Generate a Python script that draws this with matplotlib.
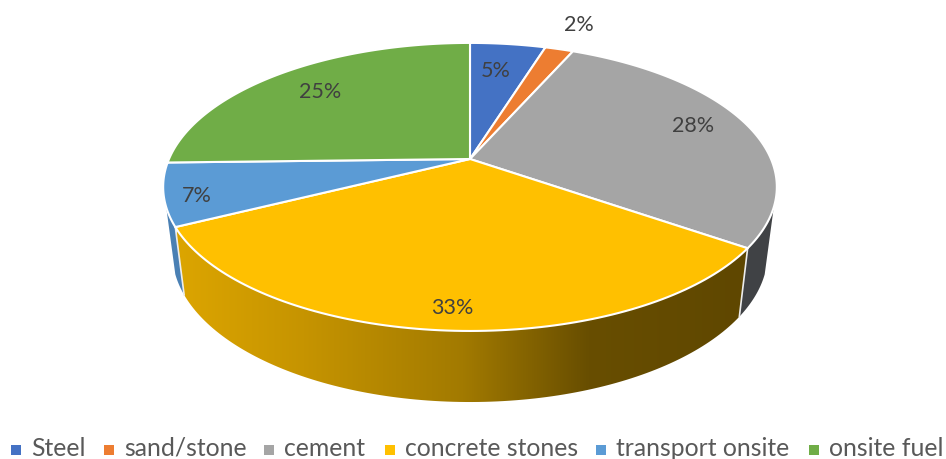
#!/usr/bin/env python3
import numpy as np
import matplotlib
matplotlib.use("Agg")
import matplotlib.pyplot as plt
from matplotlib.colors import LinearSegmentedColormap
from matplotlib.patches import Polygon

categories = ["Steel", "sand/stone", "cement", "concrete stones", "transport onsite", "onsite fuel"]
values = [4.8, 1.8, 28.1, 32.9, 7.0, 25.4]
colours = ["#4472C4", "#ED7D31", "#A5A5A5", "#FFC000", "#5B9BD5", "#70AD47"]

# where each % label sits: fraction of radius, and nudge off the mid angle (deg)
label_radius = [0.73, 1.27, 0.815, 0.89, 0.90, 0.765]
label_nudge = [-1.0, 0.0, -2.0, -1.0, -2.5, 0.0]

# legend: left edge of each text, in pixels
legend_text_x = [31, 124, 284, 405, 616, 829]

cx, cy = 470, 159


def top_disc(angle, r=1.0):
    # perspective view of the lid, angle clockwise from 12 o'clock
    t = np.radians(angle)
    u, v = r * np.sin(t), r * np.cos(t)
    w = 1 + 0.194 * v
    return cx + 301 * u / w, cy - 138.6 * v / w


def bottom_disc(angle):
    t = np.radians(angle)
    u, v = np.sin(t), np.cos(t)
    w = 1 + 0.194 * v
    return cx + 292 * u / w, cy + 65.6 - 143 * v / w


def wall(a0, a1):
    ang = np.linspace(a0, a1, 120)
    xt, yt = top_disc(ang)
    xb, yb = bottom_disc(ang[::-1])
    return np.column_stack([np.r_[xt, xb], np.r_[yt, yb]])


edges = np.cumsum([0] + values) * 3.6

fig = plt.figure(figsize=(9.46, 4.59), dpi=100)
ax = fig.add_axes([0, 0, 1, 1])
ax.set_xlim(0, 946)
ax.set_ylim(459, 0)
ax.axis("off")

# side walls
grey_wall = Polygon(wall(109, edges[3]), fc="#404245", ec="none", zorder=1)
ax.add_patch(grey_wall)
blue_wall = Polygon(wall(edges[4], 251), fc="#4A80B4", ec="none", zorder=1)
ax.add_patch(blue_wall)

# yellow wall has a left to right shading
shade = LinearSegmentedColormap.from_list(
    "shade",
    [(0.0, "#DCA500"), (0.22, "#C69400"), (0.5, "#A27A00"), (0.72, "#684E00"), (1.0, "#5F4700")],
)
yellow_wall = Polygon(wall(edges[3], edges[4]), fc="none", ec="none", zorder=2)
ax.add_patch(yellow_wall)
grad = ax.imshow(
    np.linspace(0, 1, 256)[None, :], cmap=shade, extent=(177, 748, 420, 200),
    aspect="auto", zorder=2,
)
grad.set_clip_path(yellow_wall)
ax.set_xlim(0, 946)
ax.set_ylim(459, 0)

# white seams where the yellow wall meets its neighbours
for a in (edges[3], edges[4]):
    ax.plot(*zip(top_disc(a), bottom_disc(a)), color="#EDEDED", lw=1.2, zorder=3)

# lid
for i, v in enumerate(values):
    ang = np.linspace(edges[i], edges[i + 1], 100)
    xs, ys = top_disc(ang)
    ax.fill(np.r_[cx, xs], np.r_[cy, ys], fc=colours[i], ec="white", lw=1.5, zorder=4,
            joinstyle="round")

    mid = (edges[i] + edges[i + 1]) / 2 + label_nudge[i]
    lx, ly = top_disc(mid, label_radius[i])
    ax.text(lx, ly, f"{v:.0f}%", ha="center", va="center", fontsize=15.5, family="Lato",
            color="#404040", zorder=5)

# legend
for name, col, tx in zip(categories, colours, legend_text_x):
    ax.scatter(tx - 15, 449.5, marker="s", s=42, color=col, linewidths=0, zorder=5)
    ax.text(tx, 448, name, ha="left", va="center", fontsize=17.8, family="Lato", color="#595959")

fig.savefig("out.png", dpi=100)
